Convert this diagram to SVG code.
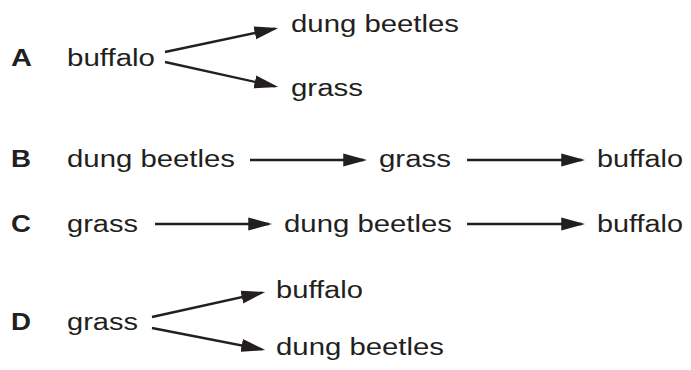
<svg xmlns="http://www.w3.org/2000/svg" width="691" height="370" viewBox="0 0 691 370">
<style>
text{font-family:"Liberation Sans",Arial,sans-serif;font-size:23px;fill:#231f20}
.lbl{font-weight:bold}
.c{fill:none;stroke:#231f20;stroke-width:2.4;marker-end:url(#ah)}
</style>
<defs>
<marker id="ah" markerUnits="userSpaceOnUse" markerWidth="24" markerHeight="14" viewBox="0 0 22 12" refX="19" refY="6" orient="auto">
<path d="M0,0 L22,6 L0,12 z" fill="#231f20"/>
</marker>
</defs>
<rect width="691" height="370" fill="#fff"/>
<g id="optionA">
<text class="lbl" x="11" y="66" textLength="21" lengthAdjust="spacingAndGlyphs">A</text>
<g id="A-buffalo"><text x="67" y="66" textLength="88" lengthAdjust="spacingAndGlyphs">buffalo</text></g>
<g id="A-dung"><text x="291" y="32" textLength="168" lengthAdjust="spacingAndGlyphs">dung beetles</text></g>
<g id="A-grass"><text x="291" y="96" textLength="72" lengthAdjust="spacingAndGlyphs">grass</text></g>
</g>
<g id="optionB">
<text class="lbl" x="11" y="167" textLength="20" lengthAdjust="spacingAndGlyphs">B</text>
<g id="B-dung"><text x="67" y="167" textLength="168" lengthAdjust="spacingAndGlyphs">dung beetles</text></g>
<g id="B-grass"><text x="379" y="167" textLength="72" lengthAdjust="spacingAndGlyphs">grass</text></g>
<g id="B-buffalo"><text x="597" y="167" textLength="86" lengthAdjust="spacingAndGlyphs">buffalo</text></g>
</g>
<g id="optionC">
<text class="lbl" x="11" y="232" textLength="20" lengthAdjust="spacingAndGlyphs">C</text>
<g id="C-grass"><text x="67" y="232" textLength="71" lengthAdjust="spacingAndGlyphs">grass</text></g>
<g id="C-dung"><text x="284" y="232" textLength="168" lengthAdjust="spacingAndGlyphs">dung beetles</text></g>
<g id="C-buffalo"><text x="597" y="232" textLength="86" lengthAdjust="spacingAndGlyphs">buffalo</text></g>
</g>
<g id="optionD">
<text class="lbl" x="11" y="330" textLength="20" lengthAdjust="spacingAndGlyphs">D</text>
<g id="D-grass"><text x="67" y="330" textLength="71" lengthAdjust="spacingAndGlyphs">grass</text></g>
<g id="D-buffalo"><text x="276" y="298" textLength="87" lengthAdjust="spacingAndGlyphs">buffalo</text></g>
<g id="D-dung"><text x="276" y="355" textLength="168" lengthAdjust="spacingAndGlyphs">dung beetles</text></g>
</g>
<g id="connectors">
<path class="c" d="M165,52 L275.07,28.62"/>
<path class="c" d="M165,62 L275.07,86.35"/>
<path class="c" d="M250,160 L364,160"/>
<path class="c" d="M467,160 L582,160"/>
<path class="c" d="M155,224 L269,224"/>
<path class="c" d="M467,224 L582,224"/>
<path class="c" d="M152,317 L262.07,292.65"/>
<path class="c" d="M152,328 L262.05,349.43"/>
</g>
</svg>
